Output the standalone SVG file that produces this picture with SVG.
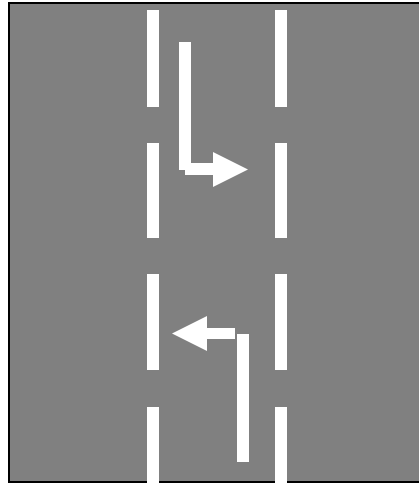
<svg xmlns="http://www.w3.org/2000/svg" width="419" height="484" viewBox="0 0 419 484">
<style>
.road{fill:#808080;stroke:#000;stroke-width:2}
.mark{fill:#fff}
</style>
<rect width="419" height="484" fill="#fff"/>
<rect class="road" x="9" y="3" width="412" height="479"/>
<g id="lane-lines">
<rect class="mark" x="147" y="10" width="12" height="97"/>
<rect class="mark" x="147" y="143" width="12" height="95"/>
<rect class="mark" x="147" y="274" width="12" height="96"/>
<rect class="mark" x="147" y="407" width="12" height="77"/>
<rect class="mark" x="275" y="10" width="12" height="97"/>
<rect class="mark" x="275" y="143" width="12" height="95"/>
<rect class="mark" x="275" y="274" width="12" height="96"/>
<rect class="mark" x="275" y="407" width="12" height="77"/>
</g>
<g id="arrow-right">
<rect class="mark" x="179" y="42" width="12" height="128"/>
<rect class="mark" x="185" y="163" width="29" height="12"/>
<polygon class="mark" points="213,152 248,169.5 213,187"/>
</g>
<g id="arrow-left">
<rect class="mark" x="237" y="334" width="12" height="128"/>
<rect class="mark" x="206" y="328" width="29" height="11"/>
<polygon class="mark" points="207,316 172,333.5 207,351"/>
</g>
</svg>
